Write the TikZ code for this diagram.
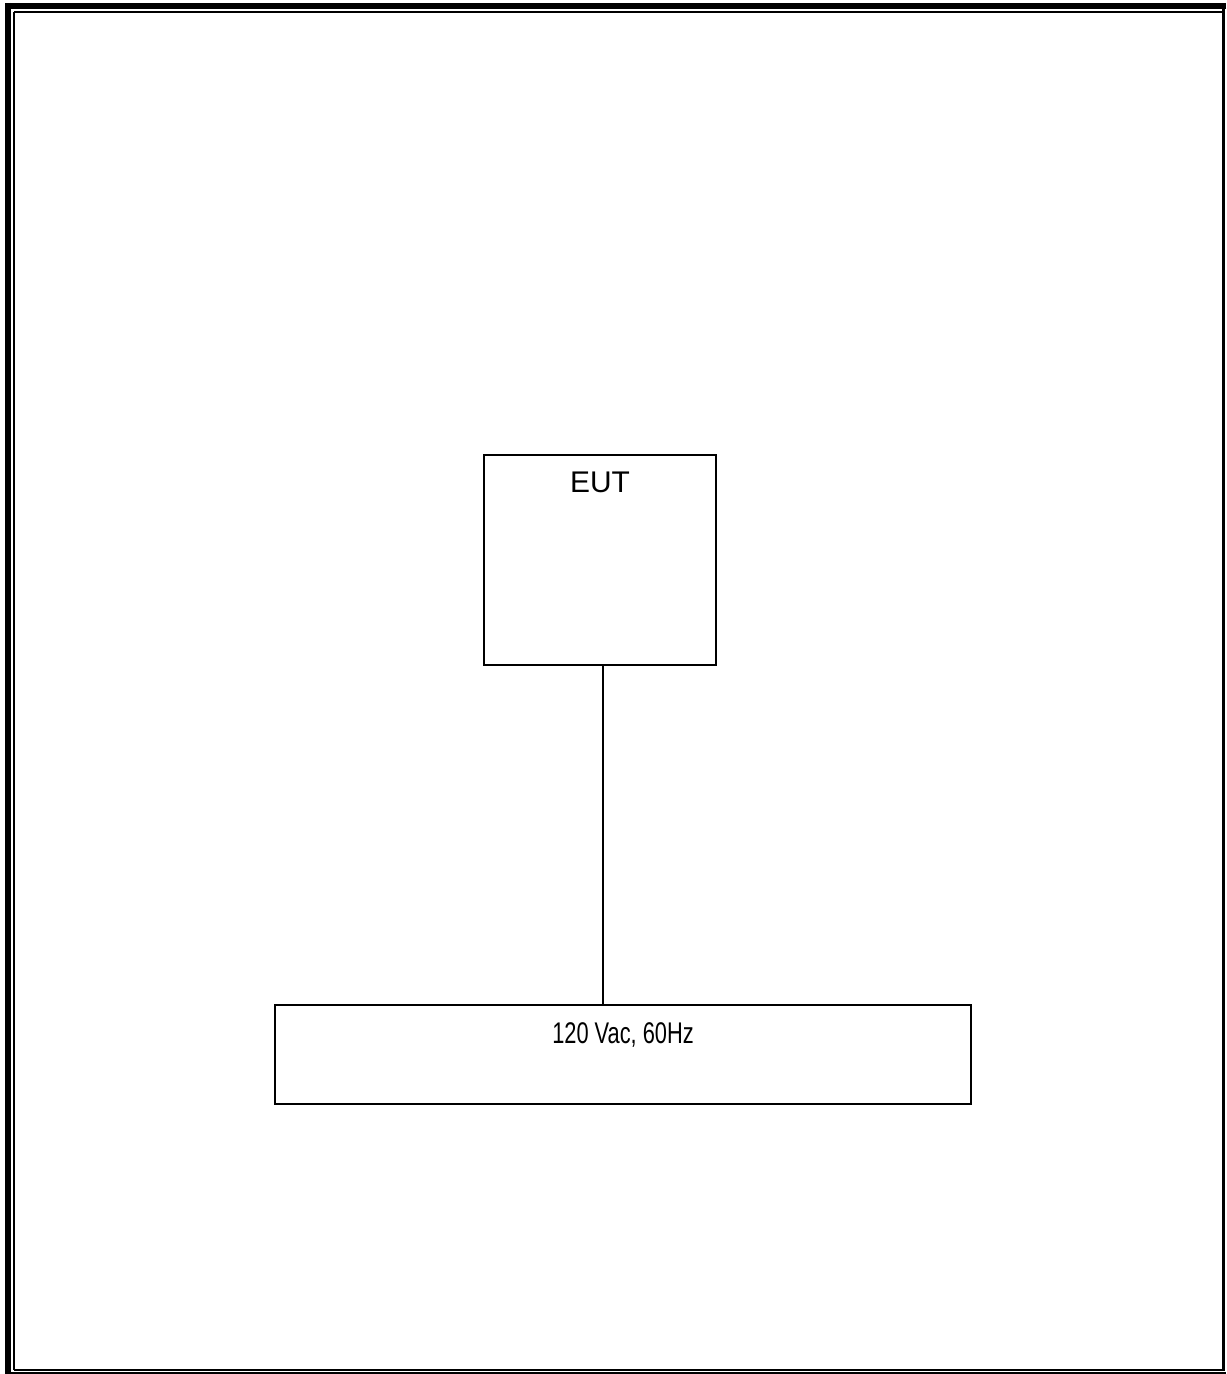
\documentclass[tikz,border=0pt]{standalone}
\usepackage{fontspec}
\setmainfont{Liberation Sans}
\newfontfamily\narrowfont[FakeStretch=0.73]{Liberation Sans}
\usetikzlibrary{positioning}

\begin{document}
\begin{tikzpicture}[x=0.01cm,y=-0.01cm,
    unitbox/.style={draw,line width=0.02cm,inner sep=0pt},
    tag/.style={inner sep=0pt,font=\fontsize{8.5}{10}\selectfont},
    frameline/.style={line width=#1}]
            \useasboundingbox (0,0) rectangle (1226,1374);

            % page border
            \draw[frameline=0.06cm] (8,3) -- (8,1374) (5,6) -- (1226,6);
            \draw[frameline=0.02cm] (14,12) -- (14,1370) (14,12) -- (1222,12);
            \draw[frameline=0.03cm] (1223.5,9) -- (1223.5,1371);
            \draw[frameline=0.02cm] (14,1370) -- (1223,1370) (11,1373) -- (1226,1373);

            \node (eut) at (600,560) [unitbox,minimum width=2.32cm,minimum height=2.1cm] {};
            \node (mains) at (623,1054.5) [unitbox,minimum width=6.96cm,minimum height=0.99cm] {};

            \node (eutname) at ([yshift=-0.39cm]eut.north) [tag,anchor=base] {EUT};
            \node (mainsname) at ([yshift=-0.40cm]mains.north) [tag,anchor=base] {\narrowfont 120 Vac, 60Hz};

            \draw[line width=0.02cm] ([xshift=0.03cm]eut.south) -- ([xshift=0.03cm]eut.south |- mains.north);

        \end{tikzpicture}
\end{document}
